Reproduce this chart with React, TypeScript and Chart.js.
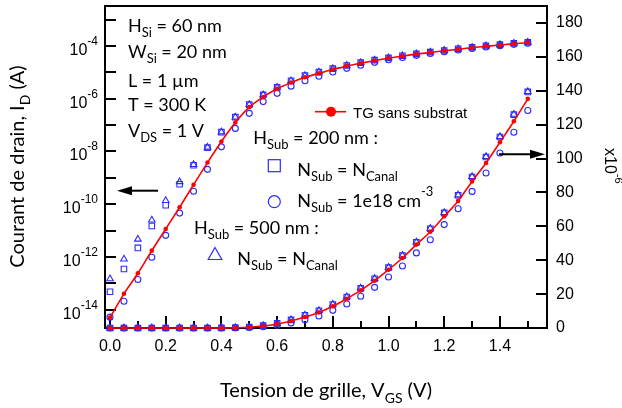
import React, { useEffect, useRef } from 'react';
import { Chart, registerables } from 'chart.js';

Chart.register(...registerables);

// ---------- data ----------
const VGS = [0.0, 0.05, 0.1, 0.15, 0.2, 0.25, 0.3, 0.35, 0.4, 0.45, 0.5, 0.55, 0.6, 0.65, 0.7, 0.75, 0.8, 0.85, 0.9, 0.95, 1.0, 1.05, 1.1, 1.15, 1.2, 1.25, 1.3, 1.35, 1.4, 1.45, 1.5];

// TG sans substrat (A)
const ID_TG = [5.0e-15, 4.0e-14, 2.4e-13, 1.73e-12, 1.15e-11, 7.7e-11, 5.5e-10, 3.8e-9, 2.4e-8, 1.26e-7, 4.8e-7, 1.17e-6, 2.4e-6, 4.1e-6, 6.5e-6, 9.2e-6, 12.8e-6, 17.3e-6, 22.2e-6, 27.9e-6, 34.4e-6, 41.3e-6, 49.2e-6, 56.8e-6, 65.9e-6, 75.0e-6, 86.5e-6, 97.4e-6, 109.6e-6, 122.0e-6, 135.2e-6];
// H_Sub = 200 nm, N_Sub = N_Canal (A)
const ID_H200_NCANAL = [4.8e-14, 3.5e-13, 2.2e-12, 1.5e-11, 9.1e-11, 5.7e-10, 3.0e-9, 1.4e-8, 5.4e-8, 2.0e-7, 6.0e-7, 1.4e-6, 2.7e-6, 4.8e-6, 7.5e-6, 10.2e-6, 13.9e-6, 18.3e-6, 23.4e-6, 29.1e-6, 35.6e-6, 42.7e-6, 50.5e-6, 58.6e-6, 67.9e-6, 78.3e-6, 89.1e-6, 100.9e-6, 112.7e-6, 125.9e-6, 139.3e-6];
// H_Sub = 200 nm, N_Sub = 1e18 cm-3 (A)
const ID_H200_1E18 = [5.2e-15, 2.1e-14, 1.4e-13, 9.8e-13, 6.6e-12, 4.6e-11, 3.1e-10, 2.1e-9, 1.5e-8, 7.5e-8, 2.8e-7, 7.8e-7, 1.6e-6, 3.0e-6, 4.8e-6, 7.1e-6, 10.4e-6, 14.2e-6, 18.7e-6, 24.0e-6, 30.1e-6, 36.6e-6, 44.3e-6, 52.1e-6, 61.0e-6, 70.4e-6, 80.6e-6, 91.5e-6, 103.3e-6, 115.5e-6, 128.3e-6];
// H_Sub = 500 nm, N_Sub = N_Canal (A)
const ID_H500_NCANAL = [1.47e-13, 8.3e-13, 4.7e-12, 2.5e-11, 1.38e-10, 7.1e-10, 3.2e-9, 1.45e-8, 5.5e-8, 2.0e-7, 6.0e-7, 1.4e-6, 2.7e-6, 4.8e-6, 7.6e-6, 10.3e-6, 14.0e-6, 18.4e-6, 23.5e-6, 29.2e-6, 35.8e-6, 42.9e-6, 50.7e-6, 58.8e-6, 68.1e-6, 78.5e-6, 89.3e-6, 101.1e-6, 112.9e-6, 126.1e-6, 139.5e-6];

// ---------- ticks ----------
const X_MAJOR = [0.0, 0.2, 0.4, 0.6, 0.8, 1.0, 1.2, 1.4];
const X_MAJOR_LABELS = ['0.0', '0.2', '0.4', '0.6', '0.8', '1.0', '1.2', '1.4'];
const X_MINOR = [0.1, 0.3, 0.5, 0.7, 0.9, 1.1, 1.3, 1.5];
const LOG_DECADES = [-14, -13, -12, -11, -10, -9, -8, -7, -6, -5, -4, -3];
const LOG_LABELED = [-14, -12, -10, -8, -6, -4];
const RIGHT_TICKS = [0, 20, 40, 60, 80, 100, 120, 140, 160, 180];

const RED = '#ff0000';
const BLUE = '#2b2bff';
const ARIAL = '"Liberation Sans", Arial, sans-serif';
const CAL = 'Lato, "Open Sans", sans-serif';

type Seg = [string, number]; // 0 normal, 1 sub, 2 sup

function drawRich(ctx: CanvasRenderingContext2D, segs: Seg[], x: number, y: number, size: number, family: string, align: 'left' | 'center' | 'right' = 'left') {
  const small = Math.round(size * 0.7);
  const widths = segs.map(([t, k]) => {
    ctx.font = `${k ? small : size}px ${family}`;
    return ctx.measureText(t).width;
  });
  const total = widths.reduce((a, b) => a + b, 0);
  let cx = align === 'center' ? x - total / 2 : align === 'right' ? x - total : x;
  ctx.textAlign = 'left';
  ctx.textBaseline = 'alphabetic';
  segs.forEach(([t, k], i) => {
    ctx.font = `${k ? small : size}px ${family}`;
    const dy = k === 1 ? size * 0.28 : k === 2 ? -size * 0.62 : 0;
    ctx.fillText(t, cx, y + dy);
    cx += widths[i];
  });
}

function arrow(ctx: CanvasRenderingContext2D, x0: number, x1: number, y: number) {
  const dir = Math.sign(x1 - x0);
  ctx.beginPath();
  ctx.moveTo(x0, y);
  ctx.lineTo(x1 - dir * 12, y);
  ctx.stroke();
  ctx.beginPath();
  ctx.moveTo(x1, y);
  ctx.lineTo(x1 - dir * 15, y - 4.5);
  ctx.lineTo(x1 - dir * 15, y + 4.5);
  ctx.closePath();
  ctx.fill();
}

const decor = {
  id: 'decor',
  beforeDatasetsDraw(chart: any) {
    const { ctx, chartArea, scales } = chart;
    const { left, right, top, bottom } = chartArea;
    ctx.save();
    ctx.strokeStyle = '#000';
    ctx.lineWidth = 2;
    ctx.beginPath();
    ctx.moveTo(left - 1, top);
    ctx.lineTo(right + 1, top);
    ctx.stroke();
    ctx.beginPath();
    scales.yL.ticks.forEach((t: any) => {
      const y = Math.round(scales.yL.getPixelForValue(t.value));
      ctx.moveTo(left, y);
      ctx.lineTo(left + 11, y);
    });
    scales.yR.ticks.forEach((t: any) => {
      const y = Math.round(scales.yR.getPixelForValue(t.value));
      ctx.moveTo(right, y);
      ctx.lineTo(right - 11, y);
    });
    scales.x.ticks.forEach((t: any) => {
      const x = Math.round(scales.x.getPixelForValue(t.value));
      const major = X_MAJOR.some((m) => Math.abs(m - t.value) < 1e-6);
      ctx.moveTo(x, bottom);
      ctx.lineTo(x, bottom - (major ? 12 : 7));
    });
    ctx.stroke();
    ctx.restore();
  },
  afterDraw(chart: any) {
    const { ctx, scales } = chart;
    ctx.save();
    ctx.fillStyle = '#000';
    ctx.strokeStyle = '#000';

    // left log tick labels
    LOG_LABELED.forEach((e) => {
      const y = scales.yL.getPixelForValue(Math.pow(10, e));
      ctx.font = `12px ${ARIAL}`;
      const sup = `-${Math.abs(e)}`;
      const sw = ctx.measureText(sup).width;
      ctx.textAlign = 'left';
      ctx.textBaseline = 'alphabetic';
      ctx.fillText(sup, 98 - sw, y - 1);
      ctx.font = `16px ${ARIAL}`;
      ctx.textAlign = 'right';
      ctx.fillText('10', 98 - sw, y + 9);
    });

    // parameters block
    drawRich(ctx, [['H', 0], ['Si', 1], [' = 60 nm', 0]], 128, 31.7, 18, CAL);
    drawRich(ctx, [['W', 0], ['Si', 1], [' = 20 nm', 0]], 128, 58.3, 18, CAL);
    drawRich(ctx, [['L = 1 \u00b5m', 0]], 128, 87, 18, CAL);
    drawRich(ctx, [['T = 300 K', 0]], 128, 111, 18, CAL);
    drawRich(ctx, [['V', 0], ['DS', 1], [' = 1 V', 0]], 128, 136.7, 18, CAL);

    // legend
    ctx.strokeStyle = RED;
    ctx.fillStyle = RED;
    ctx.lineWidth = 1.6;
    ctx.beginPath();
    ctx.moveTo(315, 111.7);
    ctx.lineTo(346, 111.7);
    ctx.stroke();
    ctx.beginPath();
    ctx.arc(331, 111.7, 5, 0, Math.PI * 2);
    ctx.fill();
    ctx.fillStyle = '#000';
    ctx.font = `15px ${ARIAL}`;
    ctx.textAlign = 'left';
    ctx.textBaseline = 'alphabetic';
    ctx.fillText('TG sans substrat', 353, 117.7);

    drawRich(ctx, [['H', 0], ['Sub', 1], [' = 200 nm :', 0]], 253.3, 144.3, 18, CAL);
    drawRich(ctx, [['N', 0], ['Sub', 1], [' = N', 0], ['Canal', 1]], 297.3, 176, 18, CAL);
    drawRich(ctx, [['N', 0], ['Sub', 1], [' = 1e18 cm', 0], ['-3', 2]], 297.3, 206.7, 18, CAL);
    drawRich(ctx, [['H', 0], ['Sub', 1], [' = 500 nm :', 0]], 194, 234.3, 18, CAL);
    drawRich(ctx, [['N', 0], ['Sub', 1], [' = N', 0], ['Canal', 1]], 237.3, 265, 18, CAL);

    ctx.strokeStyle = BLUE;
    ctx.lineWidth = 1.2;
    ctx.strokeRect(268.3, 159.7, 12, 12);
    ctx.beginPath();
    ctx.arc(274.3, 201.7, 6, 0, Math.PI * 2);
    ctx.stroke();
    ctx.beginPath();
    ctx.moveTo(215, 247.5);
    ctx.lineTo(221.8, 259.5);
    ctx.lineTo(208.2, 259.5);
    ctx.closePath();
    ctx.stroke();

    // arrows
    ctx.strokeStyle = '#000';
    ctx.fillStyle = '#000';
    ctx.lineWidth = 2;
    arrow(ctx, 158, 117, 190.7);
    arrow(ctx, 499, 545, 154.3);

    // axis titles
    ctx.save();
    ctx.translate(24, 166.5);
    ctx.rotate(-Math.PI / 2);
    drawRich(ctx, [['Courant de drain, I', 0], ['D', 1], [' (A)', 0]], 0, 0, 20, CAL, 'center');
    ctx.restore();

    drawRich(ctx, [['Tension de grille, V', 0], ['GS', 1], [' (V)', 0]], 326, 397, 20, CAL, 'center');

    ctx.save();
    ctx.translate(605, 148);
    ctx.rotate(Math.PI / 2);
    drawRich(ctx, [['x10', 0], ['-6', 2]], 0, 0, 16, ARIAL, 'left');
    ctx.restore();

    ctx.restore();
  },
};

function pts(arr: number[], scale: number) {
  return VGS.map((x, i) => ({ x, y: arr[i] * scale }));
}

function noPad(s: any) {
  s.paddingTop = 0;
  s.paddingBottom = 0;
  s.paddingLeft = 0;
  s.paddingRight = 0;
}

export default function App() {
  const ref = useRef<HTMLCanvasElement>(null);
  useEffect(() => {
    if (!ref.current) return;
    const red = (axis: string, scale: number) => ({
      data: pts(ID_TG, scale),
      yAxisID: axis,
      borderColor: RED,
      backgroundColor: RED,
      borderWidth: 1.6,
      pointRadius: 2.3,
      pointStyle: 'circle',
      pointBorderWidth: 0,
      showLine: true,
      cubicInterpolationMode: 'monotone',
      clip: false,
    });
    const blue = (arr: number[], axis: string, scale: number, style: string, r: number) => ({
      data: pts(arr, scale),
      yAxisID: axis,
      borderColor: BLUE,
      backgroundColor: 'rgba(0,0,0,0)',
      pointBorderColor: BLUE,
      pointBackgroundColor: 'rgba(0,0,0,0)',
      pointBorderWidth: 1.1,
      pointRadius: r,
      pointStyle: style,
      showLine: false,
      clip: false,
    });
    const chart = new Chart(ref.current, {
      type: 'line',
      data: {
        datasets: [
          red('yL', 1),
          red('yR', 1e6),
          blue(ID_H200_NCANAL, 'yL', 1, 'rect', 3.9),
          blue(ID_H200_NCANAL, 'yR', 1e6, 'rect', 3.9),
          blue(ID_H200_1E18, 'yL', 1, 'circle', 3),
          blue(ID_H200_1E18, 'yR', 1e6, 'circle', 3),
          blue(ID_H500_NCANAL, 'yL', 1, 'triangle', 3.8),
          blue(ID_H500_NCANAL, 'yR', 1e6, 'triangle', 3.8),
        ] as any,
      },
      options: {
        animation: false,
        responsive: false,
        devicePixelRatio: 1,
        layout: { padding: { top: 6, left: 0, right: 0, bottom: 0 } },
        plugins: { legend: { display: false }, tooltip: { enabled: false } },
        scales: {
          x: {
            type: 'linear',
            position: 'bottom',
            min: -0.018,
            max: 1.569,
            afterBuildTicks: (s: any) => {
              s.ticks = [...X_MAJOR, ...X_MINOR].sort((a, b) => a - b).map((v) => ({ value: v }));
            },
            afterFit: (s: any) => {
              s.height = 80;
              noPad(s);
            },
            ticks: {
              autoSkip: false,
              maxRotation: 0,
              padding: 9,
              color: '#000',
              font: { family: ARIAL, size: 16 },
              callback: (v: any) => {
                const i = X_MAJOR.findIndex((m) => Math.abs(m - v) < 1e-6);
                return i >= 0 ? X_MAJOR_LABELS[i] : '';
              },
            },
            grid: { display: false, drawTicks: false },
            border: { display: true, color: '#000', width: 2 },
          },
          yL: {
            type: 'logarithmic',
            position: 'left',
            min: Math.pow(10, -14.695),
            max: Math.pow(10, -2.482),
            afterBuildTicks: (s: any) => {
              s.ticks = LOG_DECADES.map((e) => ({ value: Math.pow(10, e) }));
            },
            afterFit: (s: any) => {
              s.width = 105;
              noPad(s);
            },
            ticks: { display: false },
            grid: { display: false, drawTicks: false },
            border: { display: true, color: '#000', width: 2 },
          },
          yR: {
            type: 'linear',
            position: 'right',
            min: 0,
            max: 190,
            afterBuildTicks: (s: any) => {
              s.ticks = RIGHT_TICKS.map((v) => ({ value: v }));
            },
            afterFit: (s: any) => {
              s.width = 75;
              noPad(s);
            },
            ticks: {
              padding: 9,
              color: '#000',
              font: { family: ARIAL, size: 16 },
            },
            grid: { display: false, drawTicks: false },
            border: { display: true, color: '#000', width: 2 },
          },
        },
      } as any,
      plugins: [decor],
    });
    return () => chart.destroy();
  }, []);
  return (
    <div style={{ position: 'fixed', left: 0, top: 0, width: 622, height: 408, background: '#fff' }}>
      <canvas ref={ref} width={622} height={408} />
    </div>
  );
}
